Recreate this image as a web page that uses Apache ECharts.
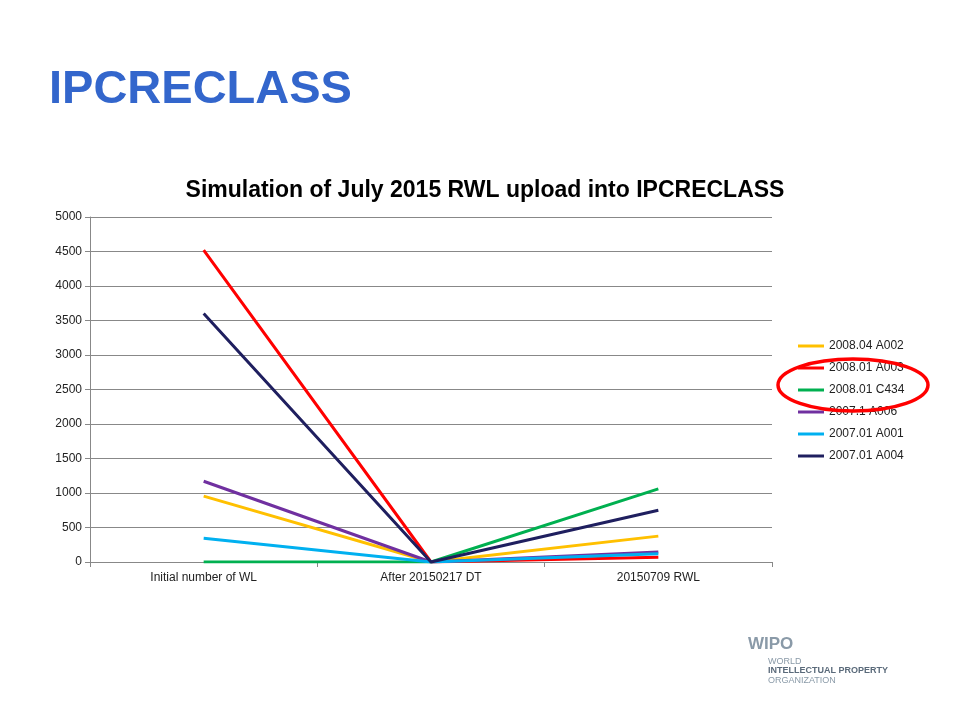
<!DOCTYPE html>
<html><head><meta charset="utf-8">
<script src="https://cdn.jsdelivr.net/npm/echarts@6/dist/echarts.min.js"></script>
<style>html,body{margin:0;padding:0;background:#fff}#c{width:960px;height:720px}</style>
</head><body><div id="c"></div>
<script>
const categories = ['Initial number of WL', 'After 20150217 DT', '20150709 RWL'];
const seriesNames = ['2008.04 A002', '2008.01 A003', '2008.01 C434', '2007.1 A006', '2007.01 A001', '2007.01 A004'];
const s_A002 = [955, 0, 375];
const s_A003 = [4520, 0, 70];
const s_C434 = [0, 0, 1060];
const s_A006 = [1170, 0, 145];
const s_A001 = [345, 0, 120];
const s_A004 = [3600, 0, 750];
const colors = ['#ffc000', '#ff0000', '#00b050', '#7030a0', '#00b0f0', '#1f1f5f'];
const values = [s_A002, s_A003, s_C434, s_A006, s_A001, s_A004];
const chart = echarts.init(document.getElementById('c'));
chart.setOption({
  animation: false,
  title: [{text: 'IPCRECLASS', left: 44, top: 62, textStyle: {fontFamily: 'Liberation Sans', fontSize: 47, fontWeight: 'bold', color: '#3366cc'}},
          {text: 'Simulation of July 2015 RWL upload into IPCRECLASS', left: 480, textAlign: 'center', top: 174, textStyle: {fontFamily: 'Liberation Sans', fontSize: 23, fontWeight: 'bold', color: '#000'}}],
  grid: {left: 90, right: 188, top: 217, bottom: 158},
  legend: {orient: 'vertical', left: 793, top: 334, itemGap: 8, itemWidth: 26, itemHeight: 14, icon: 'path://M0,6h26v3h-26z',
    textStyle: {fontFamily: 'Liberation Sans', fontSize: 12, color: '#222', lineHeight: 14}, data: seriesNames},
  xAxis: {type: 'category', data: categories, boundaryGap: true,
    axisLine: {lineStyle: {color: '#888'}}, axisTick: {show: true, interval: 0, lineStyle: {color: '#888'}},
    axisLabel: {fontFamily: 'Liberation Sans', fontSize: 12, color: '#222', margin: 10}},
  yAxis: {type: 'value', min: 0, max: 5000, interval: 500,
    axisLine: {show: true, lineStyle: {color: '#888'}}, axisTick: {show: true, lineStyle: {color: '#888'}},
    splitLine: {lineStyle: {color: '#888'}},
    axisLabel: {fontFamily: 'Liberation Sans', fontSize: 12, color: '#222', formatter: v => String(v)}},
  series: seriesNames.map((n, i) => ({name: n, type: 'line', data: values[i], symbol: 'none',
    lineStyle: {width: 3, color: colors[i]}, itemStyle: {color: colors[i]}})),
  graphic: [
    {type: 'ellipse', shape: {cx: 853, cy: 385, rx: 75, ry: 26}, style: {fill: 'none', stroke: '#ff0000', lineWidth: 3.5}, z: 100},
    {type: 'text', left: 748, top: 636, style: {text: 'WIPO', font: 'bold 17px Liberation Sans', fill: '#8a9aa8'}},
    {type: 'text', left: 768, top: 657, style: {text: 'WORLD', font: '9px Liberation Sans', fill: '#8a9aa8'}},
    {type: 'text', left: 768, top: 666, style: {text: 'INTELLECTUAL PROPERTY', font: 'bold 9px Liberation Sans', fill: '#5a6a7a'}},
    {type: 'text', left: 768, top: 676, style: {text: 'ORGANIZATION', font: '9px Liberation Sans', fill: '#8a9aa8'}}
  ]
});
</script></body></html>
